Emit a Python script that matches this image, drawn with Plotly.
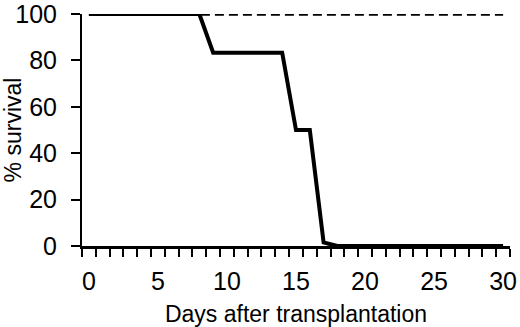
import plotly.graph_objects as go

# Data
days_treated = [0, 8, 9, 14, 15, 16, 17, 18, 30]
survival_treated = [100, 100, 83.3, 83.3, 50, 50, 1.5, 0, 0]
days_control = [0, 30]
survival_control = [100, 100]
x_tick_vals = [0, 5, 10, 15, 20, 25, 30]
y_tick_vals = [0, 20, 40, 60, 80, 100]
x_minor_ticks = [i - 0.5 for i in range(32)]

FONT = "Arial, Liberation Sans, Helvetica, sans-serif"

fig = go.Figure()
fig.add_trace(go.Scatter(x=days_control, y=survival_control, mode="lines",
                         line=dict(color="black", width=3.5, dash="9px,5px"),
                         showlegend=False, cliponaxis=False))
fig.add_trace(go.Scatter(x=days_treated, y=survival_treated, mode="lines",
                         line=dict(color="black", width=4),
                         showlegend=False, cliponaxis=False))

fig.update_layout(
    width=520, height=327,
    margin=dict(l=82, r=10, t=14, b=81),
    plot_bgcolor="white", paper_bgcolor="white",
    font=dict(family=FONT, size=23, color="black"),
    xaxis=dict(
        range=[-0.5, 30.5], tickmode="array", tickvals=x_tick_vals,
        ticks="", ticklabelstandoff=11, automargin=False,
        ticklabeloverflow="allow",
        tickfont=dict(size=25),
        minor=dict(tickmode="array", tickvals=x_minor_ticks, ticks="outside",
                   ticklen=8, tickwidth=2, tickcolor="black", showgrid=False),
        showline=True, linecolor="black", linewidth=3, showgrid=False, zeroline=False,
        title=dict(text="Days after transplantation", standoff=12, font=dict(size=23)),
    ),
    yaxis=dict(
        range=[0, 100], tickmode="array", tickvals=y_tick_vals,
        ticks="outside", ticklen=9, tickwidth=2, tickcolor="black",
        ticklabelstandoff=9, automargin=False,
        ticklabeloverflow="allow",
        tickfont=dict(size=25),
        showline=True, linecolor="black", linewidth=2, showgrid=False, zeroline=False,
        title=dict(text="% survival", standoff=6, font=dict(size=23)),
    ),
)

fig.write_html("out.html", config={"displayModeBar": False},
               post_script="document.body.style.margin='0';document.body.style.overflow='hidden';")
